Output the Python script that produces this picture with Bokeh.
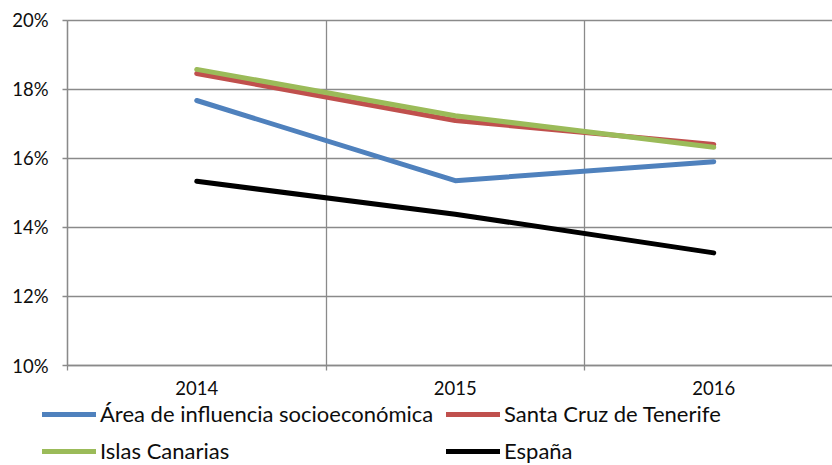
from bokeh.plotting import figure
from bokeh.models import Range1d, FixedTicker, Legend, LegendItem, PrintfTickFormatter, Grid
from bokeh.embed import file_html
from bokeh.resources import INLINE

years = ["2014", "2015", "2016"]
area = [17.67, 15.35, 15.90]
santa_cruz = [18.45, 17.09, 16.40]
canarias = [18.57, 17.23, 16.32]
espana = [15.33, 14.38, 13.26]
y_ticks = [10, 12, 14, 16, 18, 20]

series = [
    ("Área de influencia socioeconómica", area, "#4F81BD"),
    ("Santa Cruz de Tenerife", santa_cruz, "#C0504D"),
    ("Islas Canarias", canarias, "#9BBB59"),
    ("España", espana, "#000000"),
]

xpos = [i + 0.5 for i in range(len(years))]

W, H = 832, 465
PX_CAT = 258.5          # pixels per category
PLOT_L, PLOT_T, PLOT_B = 67, 19.5, 365
PX_Y = (PLOT_B - PLOT_T) / (y_ticks[-1] - y_ticks[0])
x_end = (W - PLOT_L) / PX_CAT
x_start = -PLOT_L / PX_CAT
y_top = y_ticks[-1] + PLOT_T / PX_Y
y_bot = y_ticks[0] - (H - PLOT_B) / PX_Y

p = figure(width=W, height=H, output_backend="svg", toolbar_location=None,
           x_range=Range1d(x_start, x_end), y_range=Range1d(y_bot, y_top),
           min_border_left=0, min_border_right=0, min_border_top=0, min_border_bottom=0)
p.outline_line_color = None
p.background_fill_color = "white"
p.border_fill_color = "white"

FONT = "Lato"
GRID = "#8a8a8a"
GW = 1.3
TXT = "#0d0d0d"

# x axis
xa = p.xaxis[0]
xa.fixed_location = y_ticks[0]
xa.bounds = (0, x_end)
xa.ticker = FixedTicker(ticks=xpos, minor_ticks=[0, 1, 2, 3])
xa.major_label_overrides = {x: y for x, y in zip(xpos, years)}
xa.major_tick_line_color = None
xa.minor_tick_line_color = GRID
xa.minor_tick_line_width = GW
xa.minor_tick_out = 5
xa.minor_tick_in = 0
xa.axis_line_color = GRID
xa.axis_line_width = GW
xa.major_label_text_font = FONT
xa.major_label_text_font_size = "18.5px"
xa.major_label_text_color = TXT
xa.major_label_standoff = 9

# y axis
ya = p.yaxis[0]
ya.fixed_location = 0
ya.bounds = (y_ticks[0], y_ticks[-1])
ya.ticker = FixedTicker(ticks=y_ticks, minor_ticks=[])
ya.formatter = PrintfTickFormatter(format="%d%%")
ya.major_tick_line_color = GRID
ya.major_tick_line_width = GW
ya.major_tick_out = 5
ya.major_tick_in = 0
ya.axis_line_color = GRID
ya.axis_line_width = GW
ya.major_label_text_font = FONT
ya.major_label_text_font_size = "18.5px"
ya.major_label_text_color = TXT
ya.major_label_standoff = 14

# grids
has_cb = "cross_bounds" in Grid.properties()
p.xgrid.ticker = FixedTicker(ticks=[0, 1, 2, 3])
p.xgrid.grid_line_color = GRID
p.xgrid.grid_line_width = GW
p.ygrid.ticker = FixedTicker(ticks=y_ticks)
p.ygrid.grid_line_color = GRID
p.ygrid.grid_line_width = GW
if has_cb:
    p.xgrid.cross_bounds = (y_ticks[0], y_ticks[-1])
    p.ygrid.cross_bounds = (0, x_end)

renderers = {}
for name, vals, color in series:
    r = p.line(xpos, vals, line_color=color, line_width=5, line_cap="round", line_join="round")
    renderers[name] = r

def make_legend(names, vx, vy):
    lg = Legend(items=[LegendItem(label=n, renderers=[renderers[n]]) for n in names],
                location=(vx, vy), orientation="vertical")
    lg.border_line_color = None
    lg.background_fill_alpha = 0
    lg.padding = 0
    lg.margin = 0
    lg.glyph_width = 54
    lg.glyph_height = 20
    lg.label_height = 26
    lg.label_standoff = 4
    lg.spacing = 10
    lg.label_text_font = FONT
    lg.label_text_font_size = "22px"
    lg.label_text_color = TXT
    return lg

p.add_layout(make_legend(["Área de influencia socioeconómica", "Islas Canarias"], 42, 1))
p.add_layout(make_legend(["Santa Cruz de Tenerife", "España"], 446, 1))

open("out.html", "w").write(file_html(p, INLINE))
